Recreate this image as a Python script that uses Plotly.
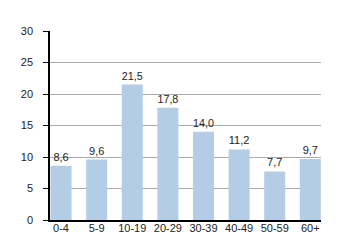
import plotly.graph_objects as go

categories = ["0-4", "5-9", "10-19", "20-29", "30-39", "40-49", "50-59", "60+"]
values = [8.6, 9.6, 21.5, 17.8, 14.0, 11.2, 7.7, 9.7]
labels = [f"{v:.1f}".replace(".", ",") for v in values]

fig = go.Figure(go.Bar(
    x=list(range(len(categories))), y=values, text=labels,
    textposition="outside", cliponaxis=False,
    textfont=dict(family="Liberation Sans, Arial", size=11, color="#222"),
    marker=dict(color="#b3cde6", line=dict(width=0)),
    width=0.59,
))
fig.update_layout(
    width=350, height=250, margin=dict(l=50, r=29, t=31, b=30),
    paper_bgcolor="white", plot_bgcolor="white", showlegend=False,
    font=dict(family="Liberation Sans, Arial", size=11, color="#222"),
    xaxis=dict(tickmode="array", tickvals=list(range(len(categories))), ticktext=categories,
               range=[-0.31, 7.3], showline=True, linecolor="black", linewidth=1.5,
               showgrid=False, ticks="", ticklabelstandoff=-3),
    yaxis=dict(range=[0, 30], dtick=5, showline=True, linecolor="black", linewidth=1.5,
               gridcolor="#aaaaaa", gridwidth=1, ticks="outside", ticklen=5,
               tickcolor="black", zeroline=False, ticklabelstandoff=8),
)
fig.write_html("out.html")
